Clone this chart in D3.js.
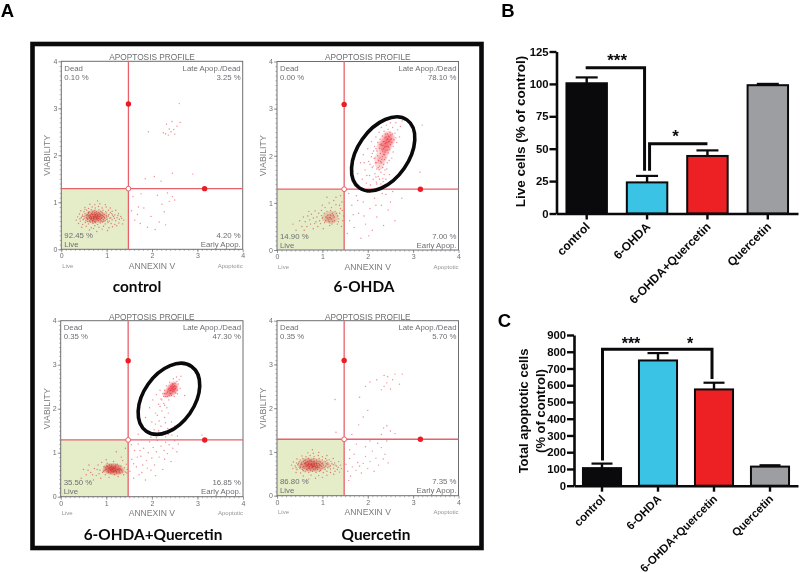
<!DOCTYPE html>
<html>
<head>
<meta charset="utf-8">
<script src="https://cdn.jsdelivr.net/npm/d3@7"></script>
<style>
  html, body { margin: 0; padding: 0; background: #fff; }
  svg { display: block; }
  text { font-family: "Liberation Sans", Arial, sans-serif; }
</style>
</head>
<body>
<div id="chart"></div>
<script>
// Data //
const groups = ["control", "6-OHDA", "6-OHDA+Quercetin", "Quercetin"];

const liveCells = [100.5, 24, 44.4, 99];
const liveErr = [4.5, 5, 4.3, 1];
const apoptoticCells = [105, 748, 575, 114];
const apoptoticErr = [27, 44, 40, 8];

const yTicksLive = [0, 25, 50, 75, 100, 125];
const yTicksApoptotic = [0, 100, 200, 300, 400, 500, 600, 700, 800, 900];

const deadPct = ["0.10 %", "0.00 %", "0.35 %", "0.35 %"];
const latePct = ["3.25 %", "78.10 %", "47.30 %", "5.70 %"];
const earlyPct = ["4.20 %", "7.00 %", "16.85 %", "7.35 %"];
const livePct = ["92.45 %", "14.90 %", "35.50 %", "86.80 %"];

const barColors = ["#0a0a0c", "#3bc3e6", "#ed2024", "#9c9ea1"];

// ANNEXIN V, VIABILITY read per cell from the scatter panels
const controlCells = [
  [.62,.41],[.78,.38],[.9,.43],[1.02,.4],[.71,.44],[.45,.47],[.55,.49],[.66,.46],[.74,.5],[.83,.47],[.93,.49],[1.05,.46],[1.13,.48],[1.22,.5],
  [.38,.55],[.47,.53],[.53,.57],[.6,.54],[.64,.58],[.7,.55],[.75,.57],[.8,.53],[.86,.56],[.91,.58],[.97,.54],[1.03,.57],[1.1,.55],[1.18,.53],[1.27,.56],[1.35,.54],
  [.33,.62],[.42,.6],[.48,.63],[.54,.61],[.58,.64],[.62,.6],[.66,.63],[.69,.61],[.72,.64],[.76,.6],[.79,.63],[.82,.61],[.86,.64],[.89,.6],[.93,.63],[.97,.61],[1.01,.64],[1.06,.6],[1.12,.63],[1.2,.61],[1.28,.64],[1.38,.62],
  [.36,.69],[.44,.67],[.5,.7],[.55,.67],[.59,.71],[.62,.67],[.65,.7],[.67,.66],[.7,.69],[.72,.67],[.74,.71],[.77,.67],[.79,.7],[.81,.66],[.84,.69],[.87,.71],[.9,.67],[.93,.7],[.96,.66],[1,.69],[1.04,.71],[1.09,.67],[1.15,.7],[1.23,.67],[1.31,.7],
  [.4,.75],[.47,.73],[.52,.76],[.57,.74],[.6,.77],[.64,.73],[.67,.76],[.7,.74],[.73,.77],[.76,.73],[.78,.76],[.81,.74],[.85,.77],[.88,.73],[.92,.76],[.95,.74],[1,.77],[1.05,.74],[1.11,.76],[1.18,.73],[1.26,.76],
  [.43,.82],[.5,.8],[.56,.83],[.61,.8],[.66,.84],[.7,.81],[.74,.83],[.78,.8],[.83,.84],[.87,.81],[.92,.83],[.98,.8],[1.04,.83],[1.12,.81],[1.2,.83],
  [.52,.89],[.6,.87],[.68,.9],[.75,.88],[.82,.91],[.9,.88],[.99,.9],[1.08,.88],[.63,.96],[.74,.95],[.85,.97],[.97,.95],[.8,1.03],
  [.57,.66],[.61,.72],[.64,.65],[.68,.74],[.71,.66],[.73,.59],[.75,.74],[.77,.65],[.8,.72],[.83,.65],[.85,.74],[.88,.66],[.91,.72],[.94,.59],[.69,.58],[.6,.78],[.74,.79],[.68,.79],[.82,.78],[.9,.79],[.99,.72],[1.02,.6],[1.07,.66],[1.13,.73],[1.17,.66],[.5,.65],[.46,.7],[.41,.65],[.55,.72],[.63,.69],[.76,.69],[.83,.7],[.66,.67],[.72,.7],[.79,.67],[.7,.62],[.86,.6],[.95,.68],[1.08,.78],[.52,.85],[.58,.59],[1.25,.72],[1.33,.66],
  [1.55,.82],[1.62,.62],[1.68,.74],[1.74,.55],[1.82,.88],[1.9,.47],[1.98,.7],[2.07,.42],[2.16,.58],[2.22,.96],[2.3,.52],[2.38,1.02],[2.27,.8],[1.58,1.12],[1.76,1.18],[2.12,1.15],[2.34,1.2],[2.45,1.12],[2.5,1.05],[1.7,.9],
  [1.85,1.5],[2.05,1.55],[2.2,1.45],[2.45,1.62],[2.9,1.6],[2.3,2.46],[2.36,2.43],[2.42,2.5],[2.25,2.48],[2.48,2.55],[2.32,2.66],[2.44,2.72],[2.55,2.62],[2.62,2.7],[2.38,2.56],[2.5,2.45],[2.6,3.1],[1.92,2.5]
];

const ohdaCells = [
  [.42,.42],[.55,.5],[.62,.6],[.68,.72],[.74,.55],[.8,.68],[.84,.83],[.9,.5],[.94,.62],[.98,.73],[1.02,.45],[1.05,.58],[1.08,.7],[1.1,.82],[1.13,.64],[1.16,.52],[1.18,.74],[1.2,.9],[1.23,.6],[1.26,.7],[1.28,.82],[1.3,.96],[1.33,.55],[1.36,.66],[1.38,.78],[1.4,.88],[1.43,1.02],[1.45,.62],[1.3,1.12],[1.15,1],[1,.95],[.86,.6],[.76,.76],[.66,.5],[.5,.62],[.92,.78],[1.07,.62],[1.2,.66],[1.34,.72],[1.22,.78],[.72,.64],[.96,.56],[1.12,.74],[.58,.7],[.35,.55],[1.4,1.15],[1.25,1.05],[1.1,1.12],[.8,.45],[1.42,.5],
  [1,.68],[1.04,.78],[1.11,.68],[1.15,.6],[1.17,.69],[1.24,.74],[1.27,.62],[1.31,.78],[1.35,.6],[.88,.7],[.83,.56],[.98,.84],[1.06,.9],[1.21,.55],[.7,.82],[.6,.42],[1.44,.84],[1.38,.95],[1.47,.72],[1.18,.84],
  [1.55,.35],[1.6,.62],[1.65,.95],[1.7,.48],[1.75,1.15],[1.8,.78],[1.85,.25],[1.9,1.02],[1.95,.55],[2,1.22],[2.05,.88],[2.1,.42],[2.15,1.1],[2.2,.7],[2.25,1.26],[2.3,.95],[2.35,.52],[2.4,1.18],[2.45,.85],[2.5,1.02],[2.55,1.24],[1.58,1.2],[1.68,.75],[1.78,1.05],[1.92,.72],[2.02,.3],[2.18,.95],[2.32,1.2],[2.6,.62],[2.75,1.1],
  [1.72,1.4],[1.78,1.62],[1.84,1.85],[1.88,1.5],[1.9,2.02],[1.94,1.7],[1.97,1.42],[2,2.15],[2.02,1.88],[2.04,1.58],[2.06,1.38],[2.08,2.3],[2.1,2.05],[2.1,1.75],[2.12,1.5],[2.14,1.95],[2.15,2.2],[2.16,1.62],[2.17,1.85],[2.18,2.4],[2.19,1.44],[2.2,2.1],[2.2,1.72],[2.22,2],[2.22,2.28],[2.23,1.56],[2.24,1.9],[2.25,2.5],[2.26,2.16],[2.26,1.78],[2.27,2.35],[2.28,2.05],[2.29,1.4],[2.29,1.65],[2.3,2.22],[2.3,2.6],[2.31,1.92],[2.32,2.42],[2.33,2.1],[2.33,1.52],[2.34,2.3],[2.35,1.82],[2.35,2.02],[2.36,2.52],[2.37,2.18],[2.38,2.38],[2.38,1.7],[2.39,2.26],[2.4,1.96],[2.4,2.12],[2.41,2.65],[2.42,2.34],[2.43,2.46],[2.43,1.85],[2.44,2.2],[2.45,2.06],[2.45,2.56],[2.46,2.3],[2.47,2.4],[2.48,1.6],[2.48,2.14],[2.49,2.5],[2.5,2.24],[2.5,2.7],[2.52,2.36],[2.53,1.95],[2.54,2.46],[2.55,2.6],[2.56,2.2],[2.58,2.34],[2.6,2.48],[2.62,2.7],[2.64,2.28],[2.66,2.55],[2.7,2.4],[2.72,2.62],[2.76,2.74],[2.4,1.5],[2.3,1.3],[2.16,1.3],[2.55,1.45],
  [2.3,2.25],[2.35,2.15],[2.42,2.28],[2.38,2.08],[2.46,2.18],[2.32,1.98],[2.28,1.88],[2.25,1.7],[2.4,2.4],[2.36,2.3],[3.2,2.65],[3.15,1.65],
  [2.12,1.78],[2.16,1.95],[2.2,1.85],[2.23,1.75],[2.27,1.95],[2.3,1.85],[2.33,1.75],[2.34,2.22],[2.37,1.92],[2.39,2.46],[2.41,2.2],[2.44,2.36],[2.46,2.42],[2.48,2.3],[2.5,2.34],[2.51,2.44],[2.53,2.28],[2.44,2.12],[2.37,2.02],[2.31,2.14],[2.27,2.24],[2.18,2.15],[2.13,2.1],[2.08,1.98],[2.05,1.82],[2.18,1.55],[2.26,1.5],[2.36,1.6],[2.42,1.72],[2.47,1.9],[2.56,2.08],[2.62,2.38],[2.34,1.45],[2.2,1.4],[1.98,1.58],[1.92,1.85]
];

const comboCells = [
  [.45,.42],[.5,.62],[.56,.5],[.62,.72],[.66,.55],[.72,.38],[.74,.64],[.78,.48],[.82,.72],[.86,.6],[.88,.42],[.92,.55],[.95,.68],[.98,.5],[1,.62],[1.02,.76],[1.04,.58],[1.06,.44],[1.08,.66],[1.1,.54],[1.12,.72],[1.14,.62],[1.16,.8],[1.18,.5],[1.2,.68],[1.22,.58],[1.24,.74],[1.26,.46],[1.28,.64],[1.3,.54],[1.32,.7],[1.34,.6],[1.36,.82],[1.38,.5],[1.4,.66],[1.42,.56],[1.44,.74],[1.46,.62],[1,.84],[.9,.78],[1.1,.62],[1.16,.66],[1.2,.6],[1.06,.64],[1.12,.58],[1.25,.62],[.97,.6],[1.03,.68],[1.15,.56],[1.28,.56],[.7,.5],[.6,.6],[1.33,.9],[1.22,1.02],[1.42,1.1],
  [1.01,.7],[1.05,.55],[1.09,.6],[1.11,.68],[1.13,.65],[1.17,.58],[1.19,.64],[1.21,.72],[1.23,.54],[1.27,.7],[1.29,.6],[.94,.58],[.99,.66],[1.07,.72],[1.31,.63],[1.35,.56],[1.45,.54],[.84,.52],[.8,.62],
  [1.52,.58],[1.56,.85],[1.6,.42],[1.62,1.05],[1.66,.68],[1.7,1.2],[1.72,.5],[1.76,.92],[1.8,.72],[1.82,1.1],[1.86,.38],[1.88,.82],[1.92,1],[1.95,1.25],[1.98,.6],[2,.88],[2.03,1.12],[2.06,.72],[2.1,1.02],[2.12,1.28],[2.16,.9],[2.2,1.15],[2.24,.62],[2.27,1.05],[2.3,1.24],[2.34,.98],[2.38,1.18],[2.42,.8],[2.46,1.1],[2.5,1.27],[2.55,1.02],[1.6,.75],[1.68,.9],[1.78,.55],[2.08,.48],[2.28,.85],[1.9,.65],[1.74,1.05],[2.58,1.2],[1.55,1.18],
  [1.7,1.42],[1.8,1.62],[1.86,1.8],[1.9,1.45],[1.95,2.02],[2,1.7],[2.02,2.2],[2.05,1.52],[2.08,1.9],[2.1,2.32],[2.12,1.4],[2.15,2.1],[2.16,1.72],[2.18,2.42],[2.2,1.6],[2.2,2.22],[2.22,1.95],[2.24,2.34],[2.25,1.48],[2.26,2.12],[2.28,2.42],[2.28,1.8],[2.3,2.28],[2.32,2.52],[2.33,2.02],[2.34,2.36],[2.35,1.55],[2.36,2.44],[2.37,2.2],[2.38,2.3],[2.39,2.6],[2.4,2.42],[2.41,2.5],[2.42,2.34],[2.43,1.7],[2.44,2.46],[2.45,2.56],[2.46,2.4],[2.47,2.68],[2.48,2.5],[2.49,2.28],[2.5,2.44],[2.51,2.58],[2.52,2.36],[2.53,2.5],[2.54,2.72],[2.55,2.62],[2.56,2.42],[2.58,2.56],[2.6,2.66],[2.62,2.46],[2.64,2.74],[2.1,1.34],[2.3,1.36],[2.44,1.4],[2.5,1.6],[2.56,1.38],[2.36,1.42],[2.22,1.4],[1.98,1.35],[2.28,2.34],[2.34,2.28],[2.4,2.34],[2.46,2.48],[2.5,2.52],[3.1,1.4],[2.72,2.3],
  [2.35,2.4],[2.38,2.46],[2.42,2.42],[2.44,2.52],[2.47,2.44],[2.49,2.4],[2.52,2.46],[2.47,2.56],[2.43,2.3],[2.31,2.34],[2.26,2.28],[2.22,2.2],[2.18,2.05],[2.12,1.85],[2.08,1.65],[2.28,2.08],[2.36,1.9],[2.3,1.68],[2.15,1.5],[2.56,2.34]
];

const quercetinCells = [
  [.7,.38],[.85,.4],[1,.42],[.58,.45],[.75,.47],[.92,.46],[1.1,.47],[1.25,.49],[.42,.53],[.52,.52],[.62,.55],[.7,.53],[.78,.56],[.86,.53],[.94,.56],[1.02,.53],[1.1,.56],[1.18,.53],[1.28,.56],[1.38,.54],
  [.35,.62],[.44,.6],[.5,.63],[.56,.6],[.6,.63],[.65,.6],[.69,.63],[.73,.61],[.77,.64],[.81,.6],[.85,.63],[.89,.6],[.93,.64],[.97,.61],[1.01,.63],[1.06,.6],[1.12,.64],[1.18,.61],[1.25,.63],[1.33,.6],[1.42,.62],
  [.32,.7],[.4,.68],[.46,.71],[.51,.68],[.55,.71],[.59,.67],[.63,.7],[.66,.68],[.69,.71],[.72,.67],[.75,.7],[.78,.68],[.81,.71],[.84,.67],[.87,.7],[.9,.68],[.94,.71],[.98,.67],[1.02,.7],[1.07,.68],[1.12,.71],[1.18,.68],[1.24,.71],[1.31,.68],[1.4,.7],
  [.36,.77],[.43,.75],[.49,.78],[.54,.75],[.58,.78],[.62,.74],[.66,.77],[.7,.75],[.73,.78],[.77,.74],[.8,.77],[.84,.75],[.88,.78],[.92,.74],[.96,.77],[1.01,.75],[1.06,.78],[1.12,.75],[1.19,.78],[1.27,.75],[1.36,.78],
  [.44,.84],[.51,.82],[.57,.85],[.63,.82],[.69,.85],[.75,.82],[.81,.85],[.87,.82],[.93,.85],[1,.82],[1.07,.85],[1.15,.82],[1.24,.85],[.55,.91],[.64,.89],[.73,.92],[.82,.9],[.91,.92],[1,.89],[1.1,.92],[.68,.98],[.8,.97],[.92,.99],[.78,1.05],
  [.7,.73],[.76,.72],[.82,.73],[.66,.72],[.88,.73],
  [.57,.65],[.61,.73],[.64,.66],[.68,.79],[.71,.66],[.74,.58],[.76,.79],[.79,.65],[.82,.79],[.85,.66],[.87,.74],[.9,.65],[.93,.79],[.96,.58],[.67,.59],[.6,.81],[.72,.81],[.84,.59],[.99,.73],[1.04,.65],[1.09,.73],[1.15,.66],[1.21,.73],[.52,.65],[.47,.74],[.42,.64],[.53,.72],[.63,.76],[.77,.7],[.83,.7],[.68,.69],[.73,.72],[.8,.67],[.71,.63],[.88,.64],[.95,.69],[1.1,.81],[.58,.57],[1.28,.7],[1.35,.65],
  [1.52,.72],[1.56,.56],[1.6,.85],[1.62,.45],[1.66,.66],[1.7,.95],[1.74,.58],[1.78,.76],[1.82,.68],[1.86,.52],[1.9,.74],[1.95,.9],[2,.62],[2.05,.78],[2.1,1.02],[2.14,.56],[2.18,.86],[2.24,.7],[2.3,1.1],[2.34,.84],[2.38,.95],[2.22,1.2],[1.6,1.05],[1.75,1.18],[1.95,1.12],[2.45,.75],[1.58,.35],[2.42,1.25],[2.05,1.25],
  [1.65,1.4],[1.8,1.62],[2.3,1.4],[2.35,1.55],[2.42,1.6],[2.5,1.48],[2.6,1.42],[1.9,1.8],[2,1.95],[1.82,2.25],[1.95,2.5],[2.05,2.6],[2.2,2.65],[2.3,2.42],[2.36,2.5],[2.42,2.58],[2.5,2.44],[2.55,2.65],[2.44,2.72],[2.6,2.78],[2.7,2.55],[2.76,2.78],[2.36,2.75],[1.3,1.45],[1.28,2.2]
];

const cellSets = [controlCells, ohdaCells, comboCells, quercetinCells];

// Settings //
const width = 800;
const height = 573;
const gridLine = "#e8606a";
const dotRed = "#ec1c24";
const plotGrey = "#6d6e71";

// each scatter panel's plot box, in the order of groups
const panels = [
  { x0: 61.3, x1: 242.7, y0: 61.3, y1: 249.3, captionX: 137, captionY: 287 },
  { x0: 277, x1: 458.5, y0: 61.5, y1: 250, captionX: 364, captionY: 287 },
  { x0: 60.7, x1: 243, y0: 320.7, y1: 496.7, captionX: 153, captionY: 535 },
  { x0: 277, x1: 458.5, y0: 320.7, y1: 495.7, captionX: 376, captionY: 535 }
];

const svg = d3
  .select("#chart")
  .append("svg")
  .attr("width", width)
  .attr("height", height)
  .style("background", "#fff");

// Panel A frame
svg
  .append("rect")
  .attr("x", 32.5)
  .attr("y", 44)
  .attr("width", 449)
  .attr("height", 504)
  .attr("fill", "none")
  .attr("stroke", "#0a0a0c")
  .attr("stroke-width", 4.6);

// letters
[["A", 7.5, 17], ["B", 508, 17], ["C", 504.5, 327]].forEach(l => {
  svg
    .append("text")
    .attr("x", l[1])
    .attr("y", l[2])
    .attr("text-anchor", "middle")
    .style("font-weight", 700)
    .style("font-size", "18.5px")
    .text(l[0]);
});

function drawScatter(i) {
  const p = panels[i];
  const x = d3.scaleLinear().domain([0, 4]).range([p.x0, p.x1]);
  const y = d3.scaleLinear().domain([0, 4]).range([p.y1, p.y0]);
  const g = svg.append("g");

  // live quadrant
  g.append("rect")
    .attr("x", x(0))
    .attr("y", y(1.29))
    .attr("width", x(1.48) - x(0))
    .attr("height", y(0) - y(1.29))
    .attr("fill", "#e4edc8");

  // cells, density mist first and then the dots
  const cells = g.append("g").style("mix-blend-mode", "multiply");
  const contours = d3
    .contourDensity()
    .x(d => x(d[0]))
    .y(d => y(d[1]))
    .size([width, height])
    .cellSize(2)
    .bandwidth(2.6)
    .thresholds(10)(cellSets[i]);
  // only the thick part of a cloud gets the mist, thin parts stay single dots
  const top = d3.max(contours, d => d.value);
  cells
    .selectAll(".mist")
    .data(contours.filter(d => d.value > top * 0.4))
    .enter()
    .append("path")
    .attr("class", "mist")
    .attr("d", d3.geoPath())
    .attr("fill", "#ee2a34")
    .attr("opacity", 0.18);
  cells
    .selectAll(".cell")
    .data(cellSets[i])
    .enter()
    .append("circle")
    .attr("class", "cell")
    .attr("cx", d => x(d[0]))
    .attr("cy", d => y(d[1]))
    .attr("r", 0.7)
    .attr("fill", "#e8141f")
    .attr("opacity", 0.5);

  // plot box
  g.append("rect")
    .attr("x", p.x0)
    .attr("y", p.y0)
    .attr("width", p.x1 - p.x0)
    .attr("height", p.y1 - p.y0)
    .attr("fill", "none")
    .attr("stroke", plotGrey)
    .attr("stroke-width", 1);

  // gate lines and handles
  g.append("line")
    .attr("x1", x(1.48))
    .attr("x2", x(1.48))
    .attr("y1", p.y0)
    .attr("y2", p.y1)
    .attr("stroke", gridLine)
    .attr("stroke-width", 1.3);
  g.append("line")
    .attr("x1", p.x0)
    .attr("x2", p.x1)
    .attr("y1", y(1.29))
    .attr("y2", y(1.29))
    .attr("stroke", gridLine)
    .attr("stroke-width", 1.3);
  [[1.48, 3.09], [3.16, 1.29]].forEach(h => {
    g.append("circle")
      .attr("cx", x(h[0]))
      .attr("cy", y(h[1]))
      .attr("r", 2.7)
      .attr("fill", dotRed);
  });
  g.append("circle")
    .attr("cx", x(1.48))
    .attr("cy", y(1.29))
    .attr("r", 2.4)
    .attr("fill", "#fff")
    .attr("stroke", gridLine)
    .attr("stroke-width", 1);

  // axes, major ticks then minor ones
  const axisX = g.append("g")
    .attr("transform", `translate(0, ${p.y1})`)
    .call(d3.axisBottom(x).tickValues([0, 1, 2, 3, 4]).tickSize(3).tickPadding(1).tickFormat(d3.format("d")));
  const axisY = g.append("g")
    .attr("transform", `translate(${p.x0}, 0)`)
    .call(d3.axisLeft(y).tickValues([0, 1, 2, 3, 4]).tickSize(3).tickPadding(1).tickFormat(d3.format("d")));
  [axisX, axisY].forEach(a => {
    a.select(".domain").remove();
    a.selectAll("line").attr("stroke", plotGrey).attr("stroke-width", 0.7);
    a.selectAll("text").attr("fill", "#6d6e71").style("font-size", "7px");
  });
  const minor = d3.range(0, 40).map(d => d / 10);
  g.append("g")
    .attr("transform", `translate(0, ${p.y1})`)
    .call(d3.axisBottom(x).tickValues(minor).tickSize(1.6).tickFormat(""))
    .call(a => a.select(".domain").remove())
    .selectAll("line")
    .attr("stroke", plotGrey)
    .attr("stroke-width", 0.5);
  g.append("g")
    .attr("transform", `translate(${p.x0}, 0)`)
    .call(d3.axisLeft(y).tickValues(minor).tickSize(1.6).tickFormat(""))
    .call(a => a.select(".domain").remove())
    .selectAll("line")
    .attr("stroke", plotGrey)
    .attr("stroke-width", 0.5);

  // texts around and inside the box
  const label = (tx, ty, str, size, color, anchor) =>
    g.append("text")
      .attr("x", tx)
      .attr("y", ty)
      .attr("text-anchor", anchor)
      .attr("fill", color)
      .style("font-size", size + "px")
      .text(str);
  const cx = (p.x0 + p.x1) / 2;
  label(cx, p.y0 - 1.2, "APOPTOSIS PROFILE", 8.3, "#6d6e71", "middle");
  label(cx, p.y1 + 19.5, "ANNEXIN V", 8.6, "#7a7c7e", "middle");
  label(p.x0 + 1, p.y1 + 18.5, "Live", 6, "#939598", "start");
  label(p.x1, p.y1 + 18.5, "Apoptotic", 6, "#939598", "end");
  label(p.x0 + 3, p.y0 + 9.5, "Dead", 7.8, "#6d6e71", "start");
  label(p.x0 + 3, p.y0 + 18.5, deadPct[i], 7.8, "#6d6e71", "start");
  label(p.x1 - 2, p.y0 + 9.5, "Late Apop./Dead", 7.8, "#6d6e71", "end");
  label(p.x1 - 2, p.y0 + 18.5, latePct[i], 7.8, "#6d6e71", "end");
  label(p.x0 + 3, p.y1 - 11.5, livePct[i], 7.8, "#6d6e71", "start");
  label(p.x0 + 3, p.y1 - 2.5, "Live", 7.8, "#6d6e71", "start");
  label(p.x1 - 2, p.y1 - 11.5, earlyPct[i], 7.8, "#6d6e71", "end");
  label(p.x1 - 2, p.y1 - 2.5, "Early Apop.", 7.8, "#6d6e71", "end");
  g.append("text")
    .attr("transform", `translate(${p.x0 - 11}, ${(p.y0 + p.y1) / 2}) rotate(-90)`)
    .attr("text-anchor", "middle")
    .attr("fill", "#7a7c7e")
    .style("font-size", "8.8px")
    .text("VIABILITY");

  // caption
  g.append("text")
    .attr("x", p.captionX)
    .attr("y", p.captionY + 5)
    .attr("text-anchor", "middle")
    .attr("fill", "#0a0a0c")
    .style("font-family", "Lato, sans-serif")
    .style("font-weight", 700)
    .style("font-size", "15.4px")
    .text(groups[i]);

  return { x, y, g };
}

const scatters = groups.map((d, i) => drawScatter(i));

// hand drawn rings round the late apoptotic clouds
[[1, 2.34, 2.04, 41.5, 25.5], [2, 2.375, 2.225, 39.5, 25.5]].forEach(r => {
  const s = scatters[r[0]];
  s.g.append("ellipse")
    .attr("transform", `translate(${s.x(r[1])}, ${s.y(r[2])}) rotate(35)`)
    .attr("rx", r[4])
    .attr("ry", r[3])
    .attr("fill", "none")
    .attr("stroke", "#0a0a0c")
    .attr("stroke-width", 3.6);
});

function drawBars(o) {
  const x = d3
    .scaleBand()
    .domain(groups)
    .range(o.xRange)
    .paddingInner(o.padding)
    .paddingOuter(o.padding / 2);
  const y = d3.scaleLinear().domain([0, o.max]).range(o.yRange);
  const g = svg.append("g");

  // error bars
  const mid = d => x(d) + x.bandwidth() / 2;
  groups.forEach((d, i) => {
    g.append("line")
      .attr("x1", mid(d))
      .attr("x2", mid(d))
      .attr("y1", y(o.values[i]))
      .attr("y2", y(o.values[i] + o.errs[i]))
      .attr("stroke", "#0a0a0c")
      .attr("stroke-width", 2.4);
    g.append("line")
      .attr("x1", mid(d) - o.cap)
      .attr("x2", mid(d) + o.cap)
      .attr("y1", y(o.values[i] + o.errs[i]))
      .attr("y2", y(o.values[i] + o.errs[i]))
      .attr("stroke", "#0a0a0c")
      .attr("stroke-width", 2.2);
  });

  g.selectAll(".bar")
    .data(groups)
    .enter()
    .append("rect")
    .attr("class", "bar")
    .attr("x", d => x(d))
    .attr("y", (d, i) => y(o.values[i]))
    .attr("width", x.bandwidth())
    .attr("height", (d, i) => y(0) - y(o.values[i]))
    .attr("fill", (d, i) => barColors[i])
    .attr("stroke", "#0a0a0c")
    .attr("stroke-width", 2);

  // axes
  const yAxis = g.append("g")
    .attr("transform", `translate(${o.xRange[0]}, 0)`)
    .call(d3.axisLeft(y).tickValues(o.ticks).tickSize(7).tickPadding(1).tickSizeOuter(0));
  const xAxis = g.append("g")
    .attr("transform", `translate(0, ${y(0)})`)
    .call(d3.axisBottom(x).tickSize(6).tickSizeOuter(0).tickFormat(""));
  [xAxis, yAxis].forEach(a => {
    a.select(".domain").attr("stroke", "#0a0a0c").attr("stroke-width", 2.6);
    a.selectAll("line").attr("stroke", "#0a0a0c").attr("stroke-width", 2.4);
  });
  yAxis.selectAll("text")
    .attr("fill", "#0a0a0c")
    .style("font-size", o.tickFont + "px")
    .style("font-weight", 700);

  // slanted group names
  g.selectAll(".group")
    .data(groups)
    .enter()
    .append("text")
    .attr("class", "group")
    .attr("transform", d => `translate(${mid(d) + 4}, ${y(0) + 14}) rotate(-45)`)
    .attr("text-anchor", "end")
    .attr("fill", "#0a0a0c")
    .style("font-size", o.nameFont + "px")
    .style("font-weight", 700)
    .text(d => d);

  // y title
  o.title.forEach(t => {
    g.append("text")
      .attr("transform", `translate(${t[1]}, ${o.titleY}) rotate(-90)`)
      .attr("text-anchor", "middle")
      .attr("fill", "#0a0a0c")
      .style("font-size", o.titleFont + "px")
      .style("font-weight", 700)
      .text(t[0]);
  });

  // significance brackets
  o.brackets.forEach(b => {
    const pts = b.map(q => [mid(groups[q[0]]) + q[1], y(q[2])]);
    g.append("path")
      .attr("d", d3.line()(pts))
      .attr("fill", "none")
      .attr("stroke", "#0a0a0c")
      .attr("stroke-width", 3);
  });
  o.stars.forEach(s => {
    g.append("text")
      .attr("x", mid(groups[s[1]]) + s[2])
      .attr("y", y(s[3]))
      .attr("text-anchor", "middle")
      .attr("fill", "#0a0a0c")
      .style("font-size", o.starFont + "px")
      .style("font-weight", 700)
      .text(s[0]);
  });
}

drawBars({
  xRange: [556.5, 798],
  yRange: [213.5, 51.5],
  max: 125,
  padding: 0.33,
  values: liveCells,
  errs: liveErr,
  ticks: yTicksLive,
  cap: 11,
  tickFont: 11.3,
  nameFont: 12,
  title: [["Live cells (% of control)", 525]],
  titleY: 131.5,
  titleFont: 13.5,
  starFont: 17,
  brackets: [
    [[0, -1, 112.5], [1, -2.5, 112.5], [1, -2.5, 33]],
    [[2, 0, 53.8], [1, 2.5, 53.8], [1, 2.5, 33]]
  ],
  stars: [["***", 0, 30.5, 113.5], ["*", 1, 28.5, 55]]
});

drawBars({
  xRange: [574, 798],
  yRange: [485.7, 335],
  max: 900,
  padding: 0.32,
  values: apoptoticCells,
  errs: apoptoticErr,
  ticks: yTicksApoptotic,
  cap: 10.5,
  tickFont: 11.3,
  nameFont: 11.4,
  title: [["Total apoptotic cells", 528], ["(% of control)", 545]],
  titleY: 411,
  titleFont: 13,
  starFont: 16,
  brackets: [
    [[0, 0.5, 150], [0, 0.5, 815], [2, -2, 815], [2, -2, 637]]
  ],
  stars: [["***", 0, 29, 815], ["*", 2, -24, 815]]
});
</script>
</body>
</html>
